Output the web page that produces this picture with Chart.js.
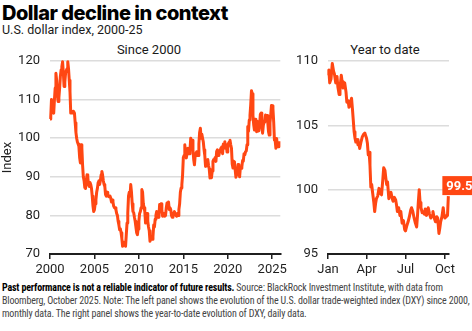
<!DOCTYPE html>
<html>
<head>
<meta charset="utf-8">
<script src="https://cdn.jsdelivr.net/npm/chart.js@4.4.1/dist/chart.umd.min.js"></script>
<style>
  html, body { margin: 0; padding: 0; background: #fff; }
  body { width: 472px; height: 331px; position: relative; overflow: hidden; font-family: Roboto, sans-serif; color: #1a1a1a; }
  .abs { position: absolute; white-space: nowrap; }
  #title { left: 2px; top: 2px; font: 800 20px Inter, sans-serif; letter-spacing: -0.5px; line-height: 22px; color: #000; }
  #subtitle { left: 2px; top: 23px; font: 400 12.5px Roboto, sans-serif; line-height: 14px; }
  .panel { font: 400 13px Roboto, sans-serif; line-height: 15px; top: 42px; transform: translateX(-50%); }
  #note { left: 2px; top: 281px; font: 400 10px "Liberation Sans Narrow", "Roboto Condensed", sans-serif; letter-spacing: -0.17px; line-height: 13px; color: #444; }
  #note b { color: #000; }
  canvas { position: absolute; }
</style>
</head>
<body>
<div id="title" class="abs">Dollar decline in context</div>
<div id="subtitle" class="abs">U.S. dollar index, 2000-25</div>
<div class="abs panel" style="left:149px">Since 2000</div>
<div class="abs panel" style="left:385px">Year to date</div>
<canvas id="longChart" width="290" height="240" style="left:0;top:40px"></canvas>
<canvas id="ytdChart" width="182" height="240" style="left:290px;top:40px"></canvas>
<div id="note" class="abs"><b>Past performance is not a reliable indicator of future results.</b> Source: BlackRock Investment Institute, with data from<br>Bloomberg, October 2025. Note: The left panel shows the evolution of the U.S. dollar trade-weighted index (DXY) since 2000,<br>monthly data. The right panel shows the year-to-date evolution of DXY, daily data.</div>

<script>
// monthly DXY, Jan 2000 .. Oct 2025
const startYear = 2000;
const dxyMonthly = [
  105.0, 105.5, 110.0, 108.0, 107.0, 106.5, 110.0, 113.0, 116.8, 115.0, 111.0, 109.5, // 2000
  110.5, 113.0, 116.0, 117.7, 118.5, 119.8, 117.0, 113.4, 114.5, 116.8, 117.5, 118.0, // 2001
  119.8, 118.0, 115.0, 112.0, 106.5, 107.0, 106.5, 107.0, 106.9, 106.5, 104.0, 101.5, // 2002
  100.0, 99.0, 98.5, 97.9, 95.0, 93.6, 98.3, 97.5, 93.0, 90.0, 89.0, 87.2,             // 2003
  87.0, 89.0, 90.5, 90.0, 88.0, 87.5, 88.5, 88.0, 87.0, 85.0, 82.5, 81.0,              // 2004
  81.5, 83.0, 84.0, 86.0, 87.0, 88.5, 89.0, 88.0, 89.0, 90.5, 91.4, 90.5,              // 2005
  89.0, 88.0, 87.5, 85.4, 85.0, 86.0, 85.5, 85.0, 84.8, 85.0, 84.5, 83.5,              // 2006
  84.0, 83.5, 82.4, 82.0, 82.0, 81.5, 80.5, 80.0, 78.5, 77.5, 76.3, 76.5,              // 2007
  75.5, 74.0, 72.0, 72.5, 73.0, 72.5, 72.0, 75.0, 78.0, 80.6, 85.0, 86.0,              // 2008
  85.0, 88.0, 86.0, 83.0, 81.0, 80.7, 79.5, 78.5, 77.0, 75.5, 75.0, 76.5,              // 2009
  78.5, 80.5, 81.0, 82.0, 86.7, 86.0, 83.0, 82.0, 81.0, 78.0, 79.8, 80.5,              // 2010
  78.5, 77.0, 76.0, 73.3, 74.5, 74.5, 73.8, 74.5, 77.5, 77.0, 79.0, 80.0,              // 2011
  81.0, 79.5, 80.0, 79.5, 82.8, 82.0, 83.0, 81.5, 79.8, 80.0, 80.5, 79.8,              // 2012
  80.0, 82.0, 83.2, 82.0, 83.5, 81.5, 82.0, 81.5, 80.0, 79.5, 80.5, 80.5,              // 2013
  81.0, 80.2, 80.0, 79.8, 80.5, 80.0, 81.5, 83.0, 86.0, 87.1, 88.0, 90.5,              // 2014
  95.0, 95.5, 98.3, 96.0, 94.9, 96.0, 97.4, 96.0, 96.0, 97.0, 100.0, 98.5,             // 2015
  99.5, 97.0, 94.5, 93.1, 95.5, 96.0, 96.5, 95.5, 95.5, 98.5, 101.5, 102.6,            // 2016
  100.0, 101.0, 100.0, 99.0, 97.0, 95.5, 92.7, 92.8, 93.0, 94.5, 93.0, 92.0,           // 2017
  89.7, 90.0, 89.8, 91.5, 94.0, 94.5, 94.5, 95.0, 94.0, 96.6, 97.0, 96.2,              // 2018
  95.5, 96.5, 97.0, 97.5, 97.8, 96.0, 98.5, 98.5, 99.1, 97.4, 98.3, 96.4,              // 2019
  97.4, 98.7, 99.0, 99.5, 98.3, 97.4, 93.3, 92.3, 94.0, 93.9, 91.8, 89.9,              // 2020
  90.6, 90.9, 93.2, 91.3, 90.0, 92.4, 92.2, 92.6, 94.2, 94.1, 96.0, 95.7,              // 2021
  96.5, 96.7, 98.3, 103.0, 101.8, 104.7, 105.9, 108.7, 112.3, 111.5, 105.9, 103.5,     // 2022
  102.1, 104.9, 102.5, 101.7, 104.3, 102.9, 101.9, 103.6, 106.2, 106.5, 103.5, 101.3,  // 2023
  103.3, 104.2, 104.5, 106.0, 104.7, 105.9, 104.1, 101.7, 100.8, 104.0, 106.0, 108.5,  // 2024
  108.4, 107.6, 104.2, 99.5, 99.4, 97.4, 99.9, 97.9, 97.8, 99.2                        // 2025
];
const longTicks = [2000, 2005, 2010, 2015, 2020, 2025];

// 2025 daily DXY, day 0 = Jan 1
const ytdDays = [
  0, 2, 4, 7, 10, 13, 15, 18, 21, 23, 26, 28, 31, 33, 35, 39, 42, 44, 47, 49,
  52, 55, 57, 59, 61, 63, 65, 68, 70, 72, 74, 77, 80, 83, 86, 88, 90, 92, 94, 96,
  98, 100, 102, 104, 107, 109, 111, 113, 116, 119, 122, 125, 128, 130, 133, 135, 137, 139, 142, 144,
  147, 150, 152, 155, 158, 160, 162, 165, 168, 170, 173, 176, 179, 181, 184, 187, 190, 193, 195, 198,
  201, 204, 207, 209, 211, 213, 215, 217, 220, 222, 225, 227, 230, 232, 234, 237, 240, 243, 245, 248,
  251, 254, 256, 259, 261, 263, 266, 269, 271, 273, 276, 279, 281
];
const ytdValues = [
  108.9, 109.3, 108.3, 108.6, 109.8, 109.2, 109.0, 108.3, 108.8, 108.0, 107.4, 107.9, 108.9, 108.4, 107.9, 108.3, 107.6, 106.8, 106.9, 106.4,
  106.6, 107.1, 106.3, 105.4, 104.5, 104.0, 103.7, 103.9, 103.5, 103.6, 103.2, 103.7, 104.1, 104.3, 104.4, 104.2, 104.0, 103.6, 102.7, 102.9,
  101.9, 100.2, 100.4, 99.8, 99.0, 98.3, 98.9, 99.3, 99.5, 100.1, 99.7, 99.6, 100.8, 101.7, 101.5, 100.9, 100.4, 100.6, 99.3, 99.6,
  99.8, 99.3, 99.1, 99.4, 99.2, 98.8, 98.3, 98.6, 98.0, 98.3, 97.4, 97.6, 96.9, 96.8, 97.2, 97.5, 97.9, 98.4, 98.6, 98.3,
  97.8, 97.4, 97.1, 98.0, 99.1, 100.0, 99.0, 98.6, 98.2, 98.3, 98.1, 98.5, 98.0, 98.3, 98.6, 98.1, 97.8, 98.0, 98.3, 97.8,
  97.5, 97.9, 97.8, 96.6, 97.0, 97.5, 97.9, 98.6, 98.0, 97.8, 97.9, 98.0, 99.5
];
const ytdTickDays = [0, 90, 181, 273];
const ytdTickLabels = ['Jan', 'Apr', 'Jul', 'Oct'];

const lineColor = '#ff4713';
const ink = '#1f1f1f';
const gridColor = '#dcdcdc';
const tickFont = { family: 'Roboto', size: 13 };

Chart.defaults.color = ink;
Chart.defaults.font.family = 'Roboto';

function lineDataset(points) {
  return {
    data: points,
    borderColor: lineColor,
    borderWidth: 3,
    borderJoinStyle: 'round',
    pointRadius: 0,
    tension: 0,
    clip: 6
  };
}

function xAxis(min, max, tickValues, label) {
  return {
    type: 'linear',
    min: min,
    max: max,
    afterFit: s => { s.height = 26; },
    afterBuildTicks: s => { s.ticks = tickValues.map(v => ({ value: v })); },
    ticks: { font: tickFont, color: ink, padding: 3, maxRotation: 0, autoSkip: false, callback: label },
    grid: { drawOnChartArea: false, drawTicks: true, tickLength: 5, color: ink, lineWidth: 1.5 },
    border: { display: true, color: ink, width: 2 }
  };
}

function yAxis(min, max, step, width, title) {
  return {
    min: min,
    max: max,
    afterFit: s => { s.width = width; },
    ticks: { stepSize: step, font: tickFont, color: ink, padding: 10 },
    grid: { color: gridColor, lineWidth: 1.6, drawTicks: false },
    border: { display: false },
    title: title ? { display: true, text: title, font: tickFont, color: ink, padding: 0 } : { display: false }
  };
}

const commonPlugins = { legend: { display: false }, tooltip: { enabled: false }, title: { display: false } };

// left panel: monthly since 2000
const longPoints = dxyMonthly.map((v, i) => ({ x: startYear + i / 12, y: v }));
new Chart(document.getElementById('longChart'), {
  type: 'line',
  data: { datasets: [lineDataset(longPoints)] },
  options: {
    responsive: false,
    animation: false,
    layout: { padding: { top: 21, right: 5, left: 0, bottom: 0 } },
    plugins: commonPlugins,
    scales: {
      x: xAxis(2000, 2025.91, longTicks, v => String(v)),
      y: yAxis(70, 120, 10, 50, 'Index')
    }
  }
});

// value tag at the end of the year-to-date line
const endLabel = {
  id: 'endLabel',
  afterDatasetsDraw(chart) {
    const meta = chart.getDatasetMeta(0);
    const last = meta.data[meta.data.length - 1];
    const value = ytdValues[ytdValues.length - 1];
    const ctx = chart.ctx;
    const x = last.x - 6;
    const h = 19;
    const y = last.y - h - 1;
    ctx.save();
    ctx.font = 'bold 13px Roboto';
    const w = ctx.measureText(value.toFixed(1)).width + 8;
    ctx.fillStyle = lineColor;
    ctx.fillRect(x, y, w, h);
    ctx.fillStyle = '#fff';
    ctx.textBaseline = 'middle';
    ctx.fillText(value.toFixed(1), x + 4, y + h / 2 + 1);
    ctx.restore();
  }
};

// right panel: daily, year to date
const ytdPoints = ytdDays.map((d, i) => ({ x: d, y: ytdValues[i] }));
new Chart(document.getElementById('ytdChart'), {
  type: 'line',
  data: { datasets: [lineDataset(ytdPoints)] },
  options: {
    responsive: false,
    animation: false,
    layout: { padding: { top: 21, right: 23, left: 0, bottom: 0 } },
    plugins: commonPlugins,
    scales: {
      x: xAxis(0, 282.5, ytdTickDays, (v, i) => ytdTickLabels[i]),
      y: yAxis(95, 110, 5, 38, null)
    }
  },
  plugins: [endLabel]
});
</script>
</body>
</html>
